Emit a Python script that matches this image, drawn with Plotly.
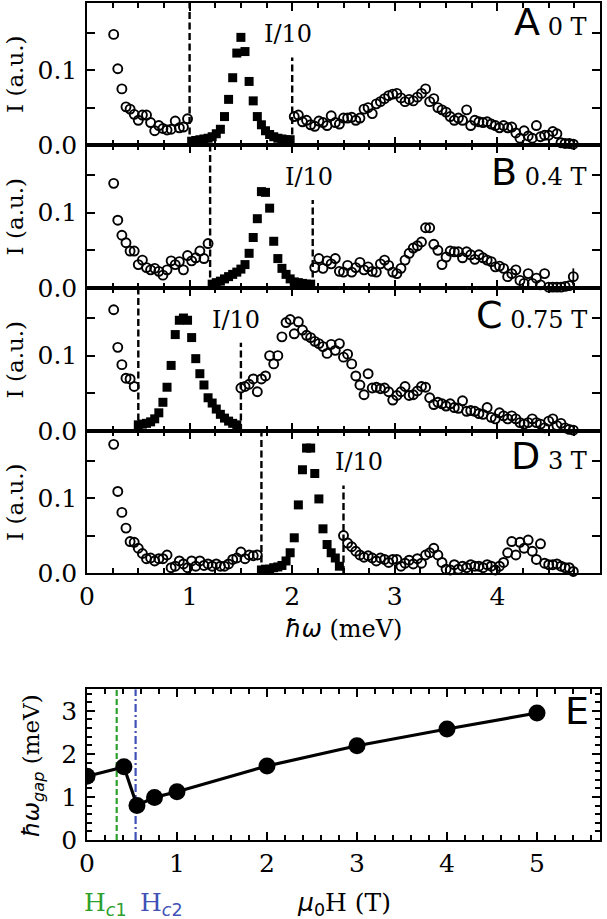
import plotly.graph_objects as go

# === 1. Data ===
# energy transfer grid (meV), shared by panels A-D
energy = [
    0.26, 0.30, 0.34, 0.38, 0.42, 0.46, 0.50, 0.54, 0.58, 0.62,
    0.66, 0.70, 0.74, 0.78, 0.82, 0.86, 0.90, 0.94, 0.98, 1.02,
    1.06, 1.10, 1.14, 1.18, 1.22, 1.26, 1.30, 1.34, 1.38, 1.42,
    1.46, 1.50, 1.54, 1.58, 1.62, 1.66, 1.70, 1.74, 1.78, 1.82,
    1.86, 1.90, 1.94, 1.98, 2.02, 2.06, 2.10, 2.14, 2.18, 2.22,
    2.26, 2.30, 2.34, 2.38, 2.42, 2.46, 2.50, 2.54, 2.58, 2.62,
    2.66, 2.70, 2.74, 2.78, 2.82, 2.86, 2.90, 2.94, 2.98, 3.02,
    3.06, 3.10, 3.14, 3.18, 3.22, 3.26, 3.30, 3.34, 3.38, 3.42,
    3.46, 3.50, 3.54, 3.58, 3.62, 3.66, 3.70, 3.74, 3.78, 3.82,
    3.86, 3.90, 3.94, 3.98, 4.02, 4.06, 4.10, 4.14, 4.18, 4.22,
    4.26, 4.30, 4.34, 4.38, 4.42, 4.46, 4.50, 4.54, 4.58, 4.62,
    4.66, 4.70, 4.74,
]

# intensities (a.u.); the part between the dashed lines is shown as I/10
int_a = [
    0.148, 0.102, 0.075, 0.051, 0.048, 0.041, 0.033, 0.040, 0.040, 0.030,
    0.019, 0.026, 0.022, 0.020, 0.021, 0.032, 0.023, 0.024, 0.035,
    0.005, 0.006, 0.007, 0.008, 0.009, 0.011, 0.015, 0.021, 0.038, 0.061,
    0.090, 0.123, 0.144, 0.125, 0.085, 0.059, 0.038, 0.027, 0.019, 0.014,
    0.011, 0.009, 0.008, 0.007, 0.007,
    0.038, 0.040, 0.031, 0.033, 0.027, 0.025, 0.032, 0.030, 0.026, 0.039,
    0.030, 0.028, 0.036, 0.036, 0.037, 0.033, 0.036, 0.048, 0.050, 0.042,
    0.055, 0.058, 0.062, 0.066, 0.068, 0.069, 0.063, 0.058, 0.061, 0.059,
    0.064, 0.069, 0.075, 0.058, 0.062, 0.050, 0.047, 0.044, 0.038, 0.033,
    0.036, 0.033, 0.047, 0.026, 0.033, 0.031, 0.030, 0.031, 0.028, 0.026,
    0.023, 0.026, 0.023, 0.024, 0.016, 0.009, 0.019, 0.012, 0.009, 0.026,
    0.011, 0.013, 0.013, 0.018, 0.015, 0.003, 0.002, 0.002, 0.001,
]
int_b = [
    0.139, 0.090, 0.070, 0.060, 0.049, 0.049, 0.031, 0.037, 0.027, 0.024,
    0.026, 0.022, 0.017, 0.024, 0.036, 0.031, 0.035, 0.024, 0.043, 0.036,
    0.040, 0.049, 0.039, 0.059,
    0.005, 0.007, 0.009, 0.012, 0.015, 0.018, 0.021, 0.025, 0.031, 0.046,
    0.067, 0.092, 0.128, 0.127, 0.106, 0.062, 0.039, 0.026, 0.018, 0.012,
    0.008, 0.007, 0.006, 0.005, 0.005,
    0.027, 0.039, 0.026, 0.036, 0.032, 0.039, 0.022, 0.021, 0.030, 0.021,
    0.027, 0.034, 0.024, 0.028, 0.022, 0.021, 0.032, 0.037, 0.030, 0.021,
    0.019, 0.026, 0.037, 0.046, 0.053, 0.056, 0.061, 0.080, 0.080, 0.058,
    0.050, 0.031, 0.041, 0.049, 0.048, 0.048, 0.040, 0.048, 0.044, 0.038,
    0.044, 0.040, 0.037, 0.035, 0.028, 0.029, 0.026, 0.015, 0.019, 0.024,
    0.010, 0.006, 0.019, 0.006, 0.013, 0.004, 0.019, 0.001, 0.001, 0.001,
    0.001, 0.002, 0.003, 0.015,
]
err_b_last = 0.011   # error bar on the last point of panel B
int_c = [
    0.161, 0.111, 0.088, 0.070, 0.069, 0.059,
    0.008, 0.009, 0.010, 0.012, 0.016, 0.024, 0.038, 0.058, 0.087, 0.128,
    0.147, 0.150, 0.147, 0.124, 0.096, 0.076, 0.061, 0.044, 0.037, 0.029,
    0.022, 0.017, 0.013, 0.010, 0.008,
    0.057, 0.059, 0.062, 0.069, 0.052, 0.069, 0.073, 0.100, 0.089, 0.100,
    0.125, 0.144, 0.148, 0.129, 0.145, 0.134, 0.127, 0.124, 0.119, 0.116,
    0.112, 0.103, 0.115, 0.107, 0.116, 0.098, 0.102, 0.089, 0.073, 0.061,
    0.048, 0.076, 0.057, 0.058, 0.056, 0.057, 0.052, 0.041, 0.047, 0.052,
    0.059, 0.047, 0.048, 0.053, 0.059, 0.058, 0.044, 0.035, 0.038, 0.036,
    0.033, 0.036, 0.031, 0.030, 0.040, 0.026, 0.027, 0.026, 0.023, 0.022,
    0.031, 0.018, 0.016, 0.024, 0.020, 0.016, 0.020, 0.016, 0.011, 0.009,
    0.011, 0.016, 0.011, 0.009, 0.004, 0.013, 0.016, 0.007, 0.010, 0.004,
    0.002, 0.001,
]
int_d = [
    0.172, 0.109, 0.081, 0.060, 0.042, 0.041, 0.033, 0.026, 0.019, 0.020,
    0.016, 0.019, 0.019, 0.024, 0.007, 0.009, 0.016, 0.012, 0.007, 0.016,
    0.009, 0.016, 0.010, 0.012, 0.009, 0.012, 0.009, 0.009, 0.012, 0.018,
    0.020, 0.028, 0.019, 0.024, 0.023, 0.024,
    0.004, 0.005, 0.005, 0.007, 0.008, 0.010, 0.016, 0.027, 0.047, 0.091,
    0.138, 0.167, 0.167, 0.133, 0.099, 0.059, 0.038, 0.027, 0.020, 0.009,
    0.050, 0.040, 0.035, 0.029, 0.024, 0.021, 0.023, 0.020, 0.016, 0.020,
    0.018, 0.014, 0.018, 0.018, 0.009, 0.013, 0.017, 0.012, 0.019, 0.013,
    0.024, 0.027, 0.033, 0.024, 0.014, 0.005, 0.004, 0.011, 0.005, 0.009,
    0.007, 0.011, 0.009, 0.009, 0.007, 0.011, 0.009, 0.004, 0.009, 0.014,
    0.027, 0.042, 0.024, 0.041, 0.033, 0.044, 0.029, 0.018, 0.039, 0.013,
    0.011, 0.011, 0.012, 0.009, 0.007, 0.007, 0.002,
]

letters = ["A", "B", "C", "D"]
fields = ["0 T", "0.4 T", "0.75 T", "3 T"]
window_lo = [1.0, 1.2, 0.5, 1.7]   # left dashed line (meV)
window_hi = [2.0, 2.2, 1.5, 2.5]   # right dashed line (meV)
label_pos = [1.96, 2.16, 1.45, 2.65]  # where "I/10" is written

# panel E : gap vs field
field_e = [0, 0.41, 0.555, 0.75, 1, 2, 3, 4, 5]
gap_e = [1.48, 1.70, 0.80, 0.99, 1.12, 1.72, 2.19, 2.58, 2.95]
hc1 = 0.33
hc2 = 0.54

# === 2. Geometry ===
W, H = 607, 919
ML, MR, MT, MB = 87, 7, 1, 79
PW = W - ML - MR
PH = H - MT - MB


def py(y):  # pixel from top -> paper fraction
    return (H - MB - y) / PH


def px(x):
    return (x - ML) / PW


def dom(a, b):
    return [max(0.0, min(1.0, a)), max(0.0, min(1.0, b))]


panel_px = [(1, 143.3), (143.3, 286.6), (286.6, 429.9), (429.9, 572.3)]
letter_dy = [19, 27, 27, 25]   # letter label offset below the panel top (px)
e_px = (689, 840)

SERIF = "DejaVu Serif"
SANS = "DejaVu Sans"
tick_font = dict(family=SERIF, size=25, color="black")
GREEN = "#2ca02c"
BLUE = "#3f51b5"


def axis_style(**kw):
    d = dict(showline=True, linecolor="black", linewidth=1.5, mirror="ticks",
             ticks="inside", tickcolor="black", tickwidth=1.5, ticklen=8,
             showgrid=False, zeroline=False, tickfont=tick_font)
    d.update(kw)
    return d


def minor(step, ln=5):
    return dict(ticks="inside", ticklen=ln, tickcolor="black", tickwidth=1.5,
                dtick=step, showgrid=False)


fig = go.Figure()
layout = {}
annotations = []
panels = [int_a, int_b, int_c, int_d]

# === 3. Panels A-D ===
for i, inten in enumerate(panels):
    n = i + 1
    xr = "x" if n == 1 else f"x{n}"
    yr = "y" if n == 1 else f"y{n}"
    lo, hi = window_lo[i], window_hi[i]

    # dashed window lines
    fig.add_trace(go.Scatter(x=[lo, lo], y=[0, 0.19], mode="lines", xaxis=xr, yaxis=yr,
                             line=dict(color="black", width=2.4, dash="7px,3.5px"),
                             cliponaxis=False, hoverinfo="skip"))
    fig.add_trace(go.Scatter(x=[hi, hi], y=[0, 0.117], mode="lines", xaxis=xr, yaxis=yr,
                             line=dict(color="black", width=2.4, dash="7px,3.5px"),
                             cliponaxis=False, hoverinfo="skip"))

    cx = [e for e, v in zip(energy, inten) if not (lo <= e < hi)]
    cy = [v for e, v in zip(energy, inten) if not (lo <= e < hi)]
    sx = [e for e, v in zip(energy, inten) if lo <= e < hi]
    sy = [v for e, v in zip(energy, inten) if lo <= e < hi]

    fig.add_trace(go.Scatter(x=cx, y=cy, mode="markers", xaxis=xr, yaxis=yr,
                             marker=dict(symbol="circle-open", size=9, color="black",
                                         line=dict(width=1.9, color="black")),
                             cliponaxis=False))
    fig.add_trace(go.Scatter(x=sx, y=sy, mode="markers", xaxis=xr, yaxis=yr,
                             marker=dict(symbol="square", size=9, color="black"),
                             cliponaxis=False))

    top, bot = panel_px[i]
    key = "" if n == 1 else str(n)
    layout["xaxis" + key] = axis_style(domain=[0, 1], anchor=yr, range=[0, 5], dtick=1,
                                       showticklabels=(n == 4), minor=minor(0.25),
                                       ticklabelstandoff=0)
    layout["yaxis" + key] = axis_style(domain=dom(py(bot), py(top)), anchor=xr, range=[0, 0.19],
                                       tickvals=[0, 0.1], ticktext=["0.0", "0.1"],
                                       minor=minor(0.05, 8), ticklabelstandoff=3)

    # y title
    annotations.append(dict(text="I (a.u.)", xref="paper", yref="paper", x=px(15),
                            y=py((top + bot) / 2), textangle=-90, showarrow=False,
                            xanchor="center", yanchor="middle",
                            font=dict(family=SERIF, size=23, color="black")))
    # panel letter + field
    annotations.append(dict(
        text=f'<span style="font-family:\'{SANS}\';font-size:38px">{letters[i]}</span> {fields[i]}',
        xref="paper", yref="paper", x=px(589), y=py(top + letter_dy[i]), showarrow=False,
        xanchor="right", yanchor="middle", font=dict(family=SERIF, size=24, color="black")))
    # I/10 label
    annotations.append(dict(text="I/10", xref=xr, yref=yr, x=label_pos[i], y=0.148,
                            showarrow=False, xanchor="center", yanchor="middle",
                            font=dict(family=SERIF, size=24, color="black")))

# error bar on the last point of B
fig.add_trace(go.Scatter(x=[energy[-1]], y=[int_b[-1]], mode="markers", xaxis="x2", yaxis="y2",
                         marker=dict(size=1, color="rgba(0,0,0,0)"),
                         error_y=dict(type="constant", value=err_b_last, color="black",
                                      thickness=1.8, width=0),
                         cliponaxis=False))

annotations.append(dict(
    text=f'<span style="font-family:\'{SANS}\';font-style:italic">ħω</span> (meV)',
    xref="paper", yref="paper", x=0.5, y=py(628), showarrow=False,
    xanchor="center", yanchor="middle", font=dict(family=SERIF, size=24, color="black")))

# === 4. Panel E ===
fig.add_trace(go.Scatter(x=[hc1, hc1], y=[0, 3.5], mode="lines", xaxis="x5", yaxis="y5",
                         line=dict(color=GREEN, width=2.2, dash="6px,3px"), hoverinfo="skip"))
fig.add_trace(go.Scatter(x=[hc2, hc2], y=[0, 3.5], mode="lines", xaxis="x5", yaxis="y5",
                         line=dict(color=BLUE, width=2.2, dash="8px,3px,2px,3px"),
                         hoverinfo="skip"))
fig.add_trace(go.Scatter(x=field_e, y=gap_e, mode="lines+markers", xaxis="x5", yaxis="y5",
                         line=dict(color="black", width=3.2),
                         marker=dict(size=17, color="black")))

layout["xaxis5"] = axis_style(domain=[0, 1], anchor="y5", range=[0, 5.7], dtick=1,
                              minor=minor(0.2, 5), ticklabelstandoff=0)
layout["yaxis5"] = axis_style(domain=dom(py(e_px[1]), py(e_px[0])), anchor="x5", range=[0, 3.5],
                              dtick=1, minor=minor(0.2, 5), ticklabelstandoff=3)

annotations.append(dict(
    text=f'<span style="font-family:\'{SANS}\';font-style:italic">ħω</span>'
         f'<sub><span style="font-family:\'{SANS}\';font-style:italic">gap</span></sub> (meV)',
    xref="paper", yref="paper", x=px(33), y=py(766), textangle=-90, showarrow=False,
    xanchor="center", yanchor="middle", font=dict(family=SERIF, size=23, color="black")))
annotations.append(dict(
    text=f'<span style="font-family:\'{SANS}\';font-style:italic">μ</span>'
         f'<sub><span style="font-family:\'{SANS}\'">0</span></sub>H (T)',
    xref="paper", yref="paper", x=0.5, y=py(904), showarrow=False,
    xanchor="center", yanchor="middle", font=dict(family=SERIF, size=25, color="black")))
annotations.append(dict(
    text="E", xref="paper", yref="paper", x=px(591), y=py(711), showarrow=False,
    xanchor="right", yanchor="middle", font=dict(family=SANS, size=38, color="black")))
for name, col, xc in [("1", GREEN, 105), ("2", BLUE, 161)]:
    annotations.append(dict(
        text=f'H<sub><span style="font-family:\'{SANS}\';font-style:italic">c</span>'
             f'<span style="font-family:\'{SANS}\'">{name}</span></sub>',
        xref="paper", yref="paper", x=px(xc), y=py(904), showarrow=False,
        xanchor="center", yanchor="middle", font=dict(family=SERIF, size=25, color=col)))

fig.update_layout(
    width=W, height=H,
    margin=dict(l=ML, r=MR, t=MT, b=MB),
    paper_bgcolor="white", plot_bgcolor="white",
    showlegend=False,
    annotations=annotations,
    **layout,
)

# the page body has a default 8px margin; drop it so the figure sits at (0, 0)
fig.write_html("out.html", config={"displayModeBar": False},
               post_script="document.body.style.margin='0px';")
